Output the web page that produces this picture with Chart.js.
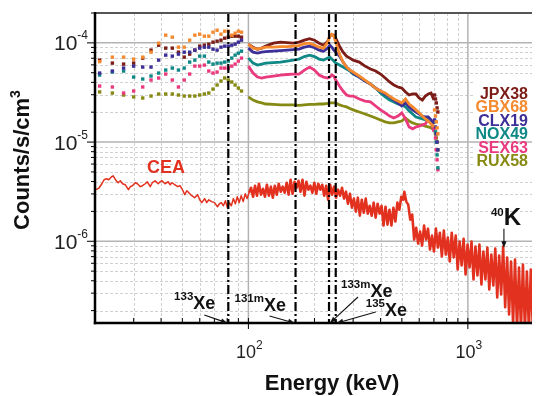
<!DOCTYPE html>
<html>
<head>
<meta charset="utf-8">
<title>Spectra</title>
<script src="https://cdn.jsdelivr.net/npm/chart.js@4.4.1/dist/chart.umd.min.js"></script>
<style>
  html, body { margin: 0; padding: 0; background: #fff; }
  #wrap { width: 536px; height: 396px; }
</style>
</head>
<body>
<div id="wrap"><canvas id="spectrum" width="536" height="396"></canvas></div>
<script>
// energies (keV)
const dotEnergy = [21, 24, 27, 30, 33, 36, 39, 42, 45, 48, 51, 54, 57, 60, 63, 66, 69, 72, 75, 78, 81, 84, 87, 90, 93];
const lineEnergy = [100, 105, 110, 115, 120, 130, 140, 150, 160, 170, 180, 190, 200, 210, 220, 230, 235, 240, 245, 250,
  260, 270, 280, 290, 300, 320, 340, 360, 380, 400, 420, 440, 460, 480, 500, 520, 540, 560, 580, 600, 620, 640, 660, 680, 700];
const tailEnergy = [705, 712, 718, 724, 730];

// counts/s/cm3
const jpxDots = [6.70e-5, 6.25e-5, 6.11e-5, 6.25e-5, 7.02e-5, 8.45e-5, 9.48e-5, 8.85e-5, 8.85e-5, 8.06e-5, 7.18e-5, 7.70e-5, 8.45e-5, 9.27e-5, 9.48e-5, 9.70e-5, 1.016e-4, 1.040e-4, 1.064e-4, 1.115e-4, 1.141e-4, 1.168e-4, 1.168e-4, 1.168e-4, 1.141e-4];
const jpxLine = [9.70e-5, 9.05e-5, 8.64e-5, 8.85e-5, 9.27e-5, 9.93e-5, 1.016e-4, 1.004e-4, 9.93e-5, 1.016e-4, 1.064e-4, 1.102e-4, 1.064e-4, 9.93e-5, 9.48e-5, 1.040e-4, 1.168e-4, 1.209e-4, 1.195e-4, 1.115e-4,
  9.27e-5, 8.06e-5, 7.35e-5, 7.02e-5, 6.70e-5, 6.40e-5, 5.83e-5, 5.44e-5, 5.20e-5, 4.85e-5, 4.42e-5, 4.03e-5, 3.76e-5, 3.59e-5, 3.50e-5, 3.20e-5, 2.98e-5, 3.05e-5, 3.05e-5, 2.78e-5, 2.65e-5, 2.91e-5, 3.05e-5, 3.12e-5, 2.65e-5];
const jpxTail = [2.98e-5, 2.72e-5, 2.48e-5, 2.21e-5, 2.01e-5];

const gbxDots = [6.47e-5, 7.18e-5, 7.18e-5, 6.86e-5, 7.18e-5, 8.06e-5, 9.93e-5, 1.195e-4, 1.141e-4, 9.05e-5, 9.05e-5, 1.064e-4, 1.195e-4, 1.223e-4, 1.168e-4, 1.168e-4, 1.281e-4, 1.341e-4, 1.223e-4, 1.311e-4, 1.311e-4, 1.195e-4, 1.252e-4, 1.311e-4, 1.281e-4];
const gbxLine = [9.70e-5, 8.85e-5, 8.64e-5, 8.85e-5, 9.05e-5, 9.05e-5, 9.16e-5, 9.16e-5, 9.27e-5, 9.37e-5, 9.82e-5, 9.93e-5, 9.48e-5, 9.05e-5, 8.85e-5, 1.016e-4, 1.168e-4, 1.223e-4, 1.168e-4, 1.016e-4,
  7.70e-5, 6.40e-5, 5.70e-5, 5.32e-5, 5.08e-5, 4.63e-5, 4.22e-5, 3.84e-5, 3.50e-5, 3.27e-5, 3.12e-5, 2.91e-5, 2.72e-5, 2.59e-5, 2.48e-5, 2.72e-5, 2.42e-5, 2.26e-5, 2.11e-5, 1.97e-5, 1.83e-5, 1.71e-5, 1.63e-5, 1.52e-5, 1.42e-5];
const gbxTail = [2.11e-5, 1.83e-5, 1.60e-5, 1.39e-5, 1.21e-5];

const clxDots = [4.96e-5, 5.20e-5, 5.57e-5, 5.83e-5, 5.70e-5, 5.70e-5, 6.70e-5, 7.52e-5, 7.35e-5, 7.70e-5, 8.06e-5, 8.06e-5, 8.45e-5, 8.85e-5, 9.05e-5, 9.05e-5, 8.64e-5, 8.45e-5, 9.05e-5, 9.27e-5, 9.27e-5, 9.48e-5, 9.70e-5, 1.016e-4, 1.064e-4];
const clxLine = [8.85e-5, 8.06e-5, 7.88e-5, 8.06e-5, 8.16e-5, 8.25e-5, 8.35e-5, 8.45e-5, 8.54e-5, 8.64e-5, 9.05e-5, 9.27e-5, 8.95e-5, 8.45e-5, 8.25e-5, 8.85e-5, 9.48e-5, 9.05e-5, 8.45e-5, 8.06e-5,
  7.35e-5, 6.40e-5, 5.70e-5, 5.32e-5, 4.96e-5, 4.52e-5, 4.12e-5, 3.84e-5, 3.50e-5, 3.27e-5, 3.05e-5, 2.85e-5, 2.65e-5, 2.48e-5, 2.31e-5, 2.48e-5, 2.26e-5, 2.11e-5, 2.01e-5, 1.92e-5, 1.83e-5, 1.79e-5, 1.79e-5, 1.67e-5, 1.52e-5];
const clxTail = [1.67e-5, 1.42e-5, 1.21e-5, 1.00e-5, 8.35e-6];

const noxDots = [4.74e-5, 5.08e-5, 5.20e-5, 4.52e-5, 4.32e-5, 4.63e-5, 4.96e-5, 5.32e-5, 5.57e-5, 5.32e-5, 5.57e-5, 6.40e-5, 6.70e-5, 7.35e-5, 7.35e-5, 6.40e-5, 6.11e-5, 6.25e-5, 6.25e-5, 6.40e-5, 6.55e-5, 7.02e-5, 7.52e-5, 7.88e-5, 8.25e-5];
const noxLine = [7.02e-5, 6.25e-5, 5.97e-5, 6.11e-5, 6.25e-5, 6.33e-5, 6.40e-5, 6.55e-5, 6.70e-5, 6.86e-5, 7.27e-5, 7.52e-5, 7.27e-5, 6.86e-5, 6.70e-5, 7.02e-5, 7.18e-5, 6.86e-5, 6.55e-5, 6.25e-5,
  5.97e-5, 5.70e-5, 5.44e-5, 5.20e-5, 4.85e-5, 4.52e-5, 4.12e-5, 3.84e-5, 3.50e-5, 3.12e-5, 2.85e-5, 2.65e-5, 2.54e-5, 2.42e-5, 2.37e-5, 2.26e-5, 2.06e-5, 1.92e-5, 1.79e-5, 1.75e-5, 1.71e-5, 1.67e-5, 1.67e-5, 1.63e-5, 1.52e-5];
const noxTail = [1.60e-5, 1.27e-5, 1.00e-5, 7.43e-6, 5.50e-6];

const sexDots = [3.67e-5, 3.59e-5, 3.12e-5, 3.27e-5, 3.59e-5, 4.22e-5, 4.42e-5, 4.85e-5, 4.22e-5, 3.59e-5, 4.22e-5, 4.85e-5, 5.83e-5, 5.83e-5, 5.97e-5, 5.20e-5, 4.96e-5, 5.08e-5, 5.57e-5, 5.57e-5, 5.57e-5, 5.83e-5, 6.11e-5, 6.55e-5, 7.02e-5];
const sexLine = [5.83e-5, 4.96e-5, 4.52e-5, 4.42e-5, 4.52e-5, 4.63e-5, 4.74e-5, 4.80e-5, 4.85e-5, 4.85e-5, 5.32e-5, 5.70e-5, 5.32e-5, 4.74e-5, 4.52e-5, 4.42e-5, 4.52e-5, 4.74e-5, 4.63e-5, 4.22e-5,
  3.67e-5, 3.27e-5, 2.98e-5, 2.91e-5, 2.91e-5, 2.72e-5, 2.59e-5, 2.54e-5, 2.31e-5, 2.11e-5, 1.97e-5, 1.83e-5, 1.75e-5, 1.83e-5, 1.97e-5, 1.71e-5, 1.42e-5, 1.36e-5, 1.42e-5, 1.45e-5, 1.49e-5, 1.52e-5, 1.71e-5, 1.60e-5, 1.27e-5];
const sexTail = [1.33e-5, 1.10e-5, 8.35e-6, 6.62e-6, 5.26e-6];

const ruxDots = [3.20e-5, 3.12e-5, 2.98e-5, 2.85e-5, 2.78e-5, 2.91e-5, 3.05e-5, 3.05e-5, 3.05e-5, 2.98e-5, 2.91e-5, 2.91e-5, 2.91e-5, 2.98e-5, 3.05e-5, 3.12e-5, 3.42e-5, 3.76e-5, 4.12e-5, 4.42e-5, 4.22e-5, 4.03e-5, 3.76e-5, 3.50e-5, 3.27e-5];
const ruxLine = [2.85e-5, 2.65e-5, 2.54e-5, 2.48e-5, 2.42e-5, 2.40e-5, 2.37e-5, 2.37e-5, 2.37e-5, 2.34e-5, 2.37e-5, 2.40e-5, 2.40e-5, 2.42e-5, 2.42e-5, 2.45e-5, 2.48e-5, 2.48e-5, 2.48e-5, 2.48e-5,
  2.37e-5, 2.31e-5, 2.26e-5, 2.18e-5, 2.11e-5, 2.01e-5, 1.92e-5, 1.83e-5, 1.75e-5, 1.67e-5, 1.60e-5, 1.56e-5, 1.56e-5, 1.60e-5, 1.63e-5, 1.75e-5, 1.63e-5, 1.56e-5, 1.52e-5, 1.49e-5, 1.49e-5, 1.45e-5, 1.42e-5, 1.39e-5, 1.33e-5];
const ruxTail = [1.39e-5, 1.21e-5, 1.10e-5, 1.00e-5, 8.35e-6];

// CEA background spectrum, low part (thin trace)
const ceaLowEnergy = [20.2, 20.9, 21.5, 22.0, 22.6, 23.1, 23.8, 24.2, 25.0, 25.5, 26.1, 26.7, 27.5, 28.4, 29.0, 29.6, 30.5, 31.2, 32.2, 32.9,
  33.9, 34.6, 35.7, 36.5, 37.6, 38.8, 39.6, 40.4, 41.7, 43.1, 44.0, 44.9, 46.3, 47.7, 48.8, 49.8, 51.3, 52.4, 53.5, 55.2,
  56.9, 58.7, 60.0, 61.3, 63.2, 64.6, 66.0, 68.0, 70.1, 72.3, 73.8, 75.3, 76.9, 78.6, 80.2, 81.9, 83.6, 85.4, 87.2, 89.0,
  90.8, 92.7, 94.7, 96.7, 98.7, 100.7];
const ceaLowCounts = [3.31e-6, 3.46e-6, 3.80e-6, 4.17e-6, 4.27e-6, 4.17e-6, 4.47e-6, 4.57e-6, 4.07e-6, 3.89e-6, 4.07e-6, 3.80e-6, 3.71e-6, 3.31e-6, 3.55e-6, 3.63e-6, 3.89e-6, 3.80e-6, 3.55e-6, 3.63e-6,
  3.80e-6, 3.98e-6, 3.55e-6, 3.89e-6, 4.07e-6, 3.80e-6, 3.98e-6, 4.07e-6, 3.80e-6, 3.98e-6, 3.71e-6, 3.89e-6, 3.71e-6, 3.55e-6, 3.63e-6, 3.38e-6, 2.95e-6, 3.23e-6, 3.09e-6, 2.88e-6,
  2.75e-6, 2.95e-6, 2.62e-6, 2.45e-6, 2.69e-6, 2.45e-6, 2.62e-6, 2.51e-6, 2.45e-6, 2.23e-6, 2.39e-6, 2.45e-6, 2.28e-6, 2.56e-6, 2.18e-6, 2.45e-6, 2.28e-6, 2.69e-6, 2.39e-6, 2.81e-6,
  2.45e-6, 2.88e-6, 2.51e-6, 3.01e-6, 2.69e-6, 3.09e-6];

// CEA, noisy part above 100 keV (upper and lower edges of the band)
const ceaHighEnergy = [100.7,
  102.8, 105.0, 107.2, 109.4, 111.7, 114.1, 116.5, 118.9, 121.4, 124.0, 126.6, 129.2, 131.9, 134.7, 137.5, 140.4, 143.3, 146.3, 149.4, 152.5,
  155.7, 159.0, 162.3, 165.7, 169.2, 172.7, 176.4, 180.1, 183.8, 187.7, 191.6, 195.6, 199.7, 203.9, 208.2, 212.6, 217.0, 221.6, 226.2, 230.9,
  235.8, 240.7, 245.8, 250.9, 256.2, 261.6, 267.1, 272.7, 278.4, 284.2, 290.2, 296.2, 302.5, 308.8, 315.3, 321.9, 328.6, 335.5, 342.5, 349.7,
  357.0, 364.5, 372.2, 380.0, 387.9, 396.0, 404.4, 412.8, 421.5, 430.3, 439.3, 448.5, 457.9, 467.5, 477.3, 487.3, 497.5, 508.0, 513.3, 524.1,
  535.0, 546.3, 557.7, 569.4,
  581.3, 593.5, 605.9, 618.6, 631.7, 644.9, 658.4, 672.2, 686.3, 700.7, 715.3, 730.3, 745.6, 761.2, 777.2, 793.5, 810.2, 827.1, 844.5, 862.2,
  880.3, 898.7, 917.6, 936.8, 956.4, 976.4, 996.8, 1018, 1039, 1061, 1083, 1106, 1129, 1153, 1177, 1202, 1227, 1252, 1279, 1306,
  1333, 1361, 1389, 1418, 1448, 1479, 1510, 1541, 1573, 1607, 1640, 1675, 1710, 1746, 1782, 1820, 1858, 1897, 1936, 1977];
const ceaHighCounts = [3.09e-6,
  3.46e-6, 2.81e-6, 3.63e-6, 2.88e-6, 3.80e-6, 2.95e-6, 3.38e-6, 2.81e-6, 3.71e-6, 2.88e-6, 3.55e-6, 2.75e-6, 3.63e-6, 2.95e-6, 3.80e-6, 3.16e-6, 3.55e-6, 3.09e-6, 3.89e-6, 2.95e-6,
  4.17e-6, 3.01e-6, 3.98e-6, 3.46e-6, 4.07e-6, 3.16e-6, 4.17e-6, 2.88e-6, 3.98e-6, 3.31e-6, 3.63e-6, 3.09e-6, 3.89e-6, 3.01e-6, 3.80e-6, 3.31e-6, 3.71e-6, 2.88e-6, 3.63e-6, 2.62e-6,
  3.71e-6, 2.95e-6, 3.55e-6, 2.75e-6, 3.31e-6, 2.88e-6, 3.46e-6, 2.69e-6, 3.16e-6, 2.39e-6, 3.01e-6, 2.18e-6, 2.69e-6, 1.99e-6, 2.75e-6, 1.81e-6, 2.62e-6, 1.94e-6, 2.69e-6, 1.90e-6,
  2.28e-6, 1.81e-6, 2.45e-6, 1.73e-6, 2.39e-6, 1.90e-6, 2.28e-6, 1.44e-6, 2.23e-6, 1.47e-6, 2.08e-6, 1.44e-6, 2.18e-6, 1.58e-6, 2.45e-6, 2.08e-6, 2.81e-6, 2.62e-6, 3.16e-6, 2.51e-6,
  2.34e-6, 1.65e-6, 1.86e-6, 1.04e-6,
  1.37e-6, 9.48e-7, 1.25e-6, 9.05e-7, 1.44e-6, 1.04e-6, 1.34e-6, 8.25e-7, 1.14e-6, 7.88e-7, 1.34e-6, 8.64e-7, 1.22e-6, 7.02e-7, 1.28e-6, 7.35e-7, 1.09e-6, 6.25e-7, 1.22e-6, 6.86e-7,
  1.14e-6, 5.19e-7, 9.93e-7, 5.70e-7, 1.06e-6, 4.63e-7, 9.26e-7, 5.44e-7, 9.93e-7, 4.12e-7, 8.84e-7, 4.52e-7, 9.26e-7, 3.67e-7, 7.88e-7, 4.12e-7, 8.64e-7, 3.27e-7, 7.35e-7, 3.59e-7,
  8.44e-7, 2.72e-7, 7.18e-7, 2.91e-7, 8.84e-7, 2.16e-7, 6.86e-7, 1.83e-7, 6.25e-7, 1.46e-7, 6.55e-7, 1.30e-7, 5.44e-7, 1.30e-7, 5.83e-7, 1.30e-7, 4.96e-7, 1.30e-7, 5.19e-7, 1.30e-7];

// xenon lines (keV) and 40K
const xenonLines = [81, 164, 233, 250];
const potassiumLine = 1460;
const potassiumCount = 8.6e-7;

// axis ticks
const xMajor = [100, 1000];
const xMinor = [30, 40, 50, 60, 70, 80, 90, 200, 300, 400, 500, 600, 700, 800, 900];
const yMajor = [1e-6, 1e-5, 1e-4];
const yMinor = [2e-7, 3e-7, 4e-7, 5e-7, 6e-7, 7e-7, 8e-7, 9e-7, 2e-6, 3e-6, 4e-6, 5e-6, 6e-6, 7e-6, 8e-6, 9e-6,
  2e-5, 3e-5, 4e-5, 5e-5, 6e-5, 7e-5, 8e-5, 9e-5, 2e-4];

const FONT = '"Liberation Sans", Arial, Helvetica, sans-serif';
const CEA_RED = '#e2321f';

const samples = [
  { name: 'JPX38', color: '#7b1c17', dots: jpxDots, line: jpxLine, tail: jpxTail },
  { name: 'GBX68', color: '#f5892e', dots: gbxDots, line: gbxLine, tail: gbxTail },
  { name: 'CLX19', color: '#3c2f98', dots: clxDots, line: clxLine, tail: clxTail },
  { name: 'NOX49', color: '#0f8886', dots: noxDots, line: noxLine, tail: noxTail },
  { name: 'SEX63', color: '#ea3a7e', dots: sexDots, line: sexLine, tail: sexTail },
  { name: 'RUX58', color: '#878a12', dots: ruxDots, line: ruxLine, tail: ruxTail }
];

function pts(xs, ys) {
  return xs.map((x, i) => ({ x: x, y: ys[i] }));
}

const datasets = [];
// orange on top, olive at the bottom
[1, 2, 3, 4, 0, 5].forEach(i => {
  const s = samples[i];
  datasets.push({
    label: s.name + ' line',
    data: pts(lineEnergy, s.line),
    showLine: true,
    borderColor: s.color,
    borderWidth: 2.8,
    pointRadius: 0
  });
  datasets.push({
    label: s.name + ' bins',
    data: pts(dotEnergy.concat(tailEnergy), s.dots.concat(s.tail)),
    showLine: false,
    pointStyle: 'rect',
    pointRadius: 2.4,
    pointBorderWidth: 0,
    pointBackgroundColor: s.color
  });
});
datasets.push({
  label: 'CEA',
  data: pts(ceaLowEnergy, ceaLowCounts),
  showLine: true,
  borderColor: CEA_RED,
  borderWidth: 1.5,
  borderJoinStyle: 'round',
  pointRadius: 0
});
datasets.push({
  label: 'CEA high',
  data: pts(ceaHighEnergy, ceaHighCounts),
  showLine: true,
  borderColor: CEA_RED,
  borderWidth: 2.6,
  borderJoinStyle: 'round',
  pointRadius: 0
});

function hline(ctx, x1, x2, y) {
  ctx.beginPath(); ctx.moveTo(x1, y); ctx.lineTo(x2, y); ctx.stroke();
}
function vline(ctx, x, y1, y2) {
  ctx.beginPath(); ctx.moveTo(x, y1); ctx.lineTo(x, y2); ctx.stroke();
}

// parts: [text, size, rise, weight]
function richText(ctx, parts, x, y, align) {
  let w = 0;
  parts.forEach(p => {
    ctx.font = (p[3] || 'bold') + ' ' + p[1] + 'px ' + FONT;
    w += ctx.measureText(p[0]).width;
  });
  let cx = align === 'right' ? x - w : (align === 'center' ? x - w / 2 : x);
  ctx.textAlign = 'left';
  ctx.textBaseline = 'alphabetic';
  parts.forEach(p => {
    ctx.font = (p[3] || 'bold') + ' ' + p[1] + 'px ' + FONT;
    ctx.fillText(p[0], cx, y - p[2]);
    cx += ctx.measureText(p[0]).width;
  });
}

function arrow(ctx, x1, y1, x2, y2) {
  const ang = Math.atan2(y2 - y1, x2 - x1);
  const head = 7;
  ctx.beginPath();
  ctx.moveTo(x1, y1);
  ctx.lineTo(x2 - Math.cos(ang) * head * 0.7, y2 - Math.sin(ang) * head * 0.7);
  ctx.stroke();
  ctx.beginPath();
  ctx.moveTo(x2, y2);
  ctx.lineTo(x2 - head * Math.cos(ang - 0.38), y2 - head * Math.sin(ang - 0.38));
  ctx.lineTo(x2 - head * Math.cos(ang + 0.38), y2 - head * Math.sin(ang + 0.38));
  ctx.closePath();
  ctx.fill();
}

const gridPlugin = {
  id: 'logGrid',
  beforeDatasetsDraw(chart) {
    const { ctx, chartArea: a, scales: { x, y } } = chart;
    ctx.save();
    ctx.lineWidth = 1;
    ctx.strokeStyle = '#d0d0d0';
    ctx.setLineDash([3, 2]);
    xMinor.forEach(v => vline(ctx, Math.round(x.getPixelForValue(v)) + 0.5, a.top, a.bottom));
    yMinor.forEach(v => hline(ctx, a.left, a.right, Math.round(y.getPixelForValue(v)) + 0.5));
    ctx.setLineDash([]);

    // blank patch behind the sample names
    ctx.fillStyle = '#fff';
    ctx.fillRect(474, 80, a.right - 474, 94);

    ctx.strokeStyle = '#b3b3b3';
    ctx.lineWidth = 1.5;
    xMajor.forEach(v => vline(ctx, x.getPixelForValue(v), a.top, a.bottom));
    yMajor.forEach(v => hline(ctx, a.left, a.right, y.getPixelForValue(v)));
    ctx.restore();
  },
  afterDatasetsDraw(chart) {
    const { ctx, chartArea: a, scales: { x, y } } = chart;
    ctx.save();

    // xenon energies
    ctx.strokeStyle = '#000';
    ctx.lineWidth = 2.2;
    ctx.setLineDash([9, 3, 2, 3]);
    xenonLines.forEach(e => vline(ctx, x.getPixelForValue(e), a.top, a.bottom));
    ctx.setLineDash([]);

    // frame
    ctx.strokeStyle = '#555';
    ctx.lineWidth = 2;
    hline(ctx, a.left, a.right, a.top);
    ctx.strokeStyle = '#000';
    ctx.lineWidth = 2.5;
    vline(ctx, a.left, a.top - 1, a.bottom + 1.2);
    hline(ctx, a.left - 1.2, a.right, a.bottom);

    // tick marks
    ctx.lineWidth = 1;
    yMajor.forEach(v => hline(ctx, a.left - 8, a.left, y.getPixelForValue(v)));
    yMinor.forEach(v => hline(ctx, a.left - 4, a.left, y.getPixelForValue(v)));
    xMajor.forEach(v => vline(ctx, x.getPixelForValue(v), a.bottom - 5, a.bottom + 6));
    xMinor.forEach(v => vline(ctx, x.getPixelForValue(v), a.bottom - 5, a.bottom));

    // tick labels
    ctx.fillStyle = '#222';
    yMajor.forEach(v => {
      const py = y.getPixelForValue(v);
      const exp = Math.round(Math.log10(v));
      richText(ctx, [['10', 21, 0, 'normal'], [String(exp), 12, 11, 'normal']], a.left - 7, py + 7.5, 'right');
    });
    xMajor.forEach(v => {
      const px = x.getPixelForValue(v);
      const exp = Math.round(Math.log10(v));
      richText(ctx, [['10', 18, 0, 'normal'], [String(exp), 12, 9, 'normal']], px + 1, a.bottom + 35, 'center');
    });

    // annotations
    ctx.fillStyle = '#111';
    ctx.strokeStyle = '#111';
    ctx.lineWidth = 1.1;
    const bottom = a.bottom;
    let tx = x.getPixelForValue(xenonLines[0]);
    arrow(ctx, tx - 24, bottom - 8, tx - 1, bottom);
    richText(ctx, [['133', 11.5, 9], ['Xe', 18, 0]], tx - 13, bottom - 14, 'right');

    tx = x.getPixelForValue(xenonLines[1]);
    arrow(ctx, tx - 26, bottom - 7, tx - 1, bottom);
    richText(ctx, [['131m', 11.5, 9], ['Xe', 18, 0]], tx - 61, bottom - 12, 'left');

    tx = x.getPixelForValue(xenonLines[2]);
    arrow(ctx, tx + 29, bottom - 26, tx + 1, bottom);
    richText(ctx, [['133m', 11.5, 9], ['Xe', 18, 0]], tx + 12, bottom - 26, 'left');

    tx = x.getPixelForValue(xenonLines[3]);
    arrow(ctx, tx + 40, bottom - 11, tx + 1, bottom);
    richText(ctx, [['135', 11.5, 9], ['Xe', 18, 0]], tx + 30, bottom - 7, 'left');

    const kx = x.getPixelForValue(potassiumLine);
    const ky = y.getPixelForValue(potassiumCount);
    arrow(ctx, kx, ky - 19, kx, ky);
    richText(ctx, [['40', 11.5, 9], ['K', 24, 0]], kx - 13, ky - 23, 'left');

    ctx.fillStyle = CEA_RED;
    richText(ctx, [['CEA', 18, 0]], 147, 173, 'left');

    // sample names
    samples.forEach((s, i) => {
      ctx.fillStyle = s.color;
      richText(ctx, [[s.name, 16, 0]], 528, 99 + i * 13.4, 'right');
    });

    // axis titles
    ctx.fillStyle = '#111';
    richText(ctx, [['Energy (keV)', 22, 0]], 332, 390, 'center');
    ctx.translate(29, 160);
    ctx.rotate(-Math.PI / 2);
    richText(ctx, [['Counts/s/cm', 22, 0], ['3', 14, 9]], 0, 0, 'center');
    ctx.restore();
  }
};

new Chart(document.getElementById('spectrum'), {
  type: 'scatter',
  data: { datasets: datasets },
  options: {
    responsive: false,
    animation: false,
    devicePixelRatio: 1,
    layout: { padding: { left: 95, top: 13, right: 0, bottom: 73 } },
    elements: { line: { tension: 0 } },
    scales: {
      x: { type: 'logarithmic', min: 20, max: 1960, display: false },
      y: { type: 'logarithmic', min: 1.5e-7, max: 2e-4, display: false }
    },
    plugins: {
      legend: { display: false },
      tooltip: { enabled: false }
    }
  },
  plugins: [gridPlugin]
});
</script>
</body>
</html>
